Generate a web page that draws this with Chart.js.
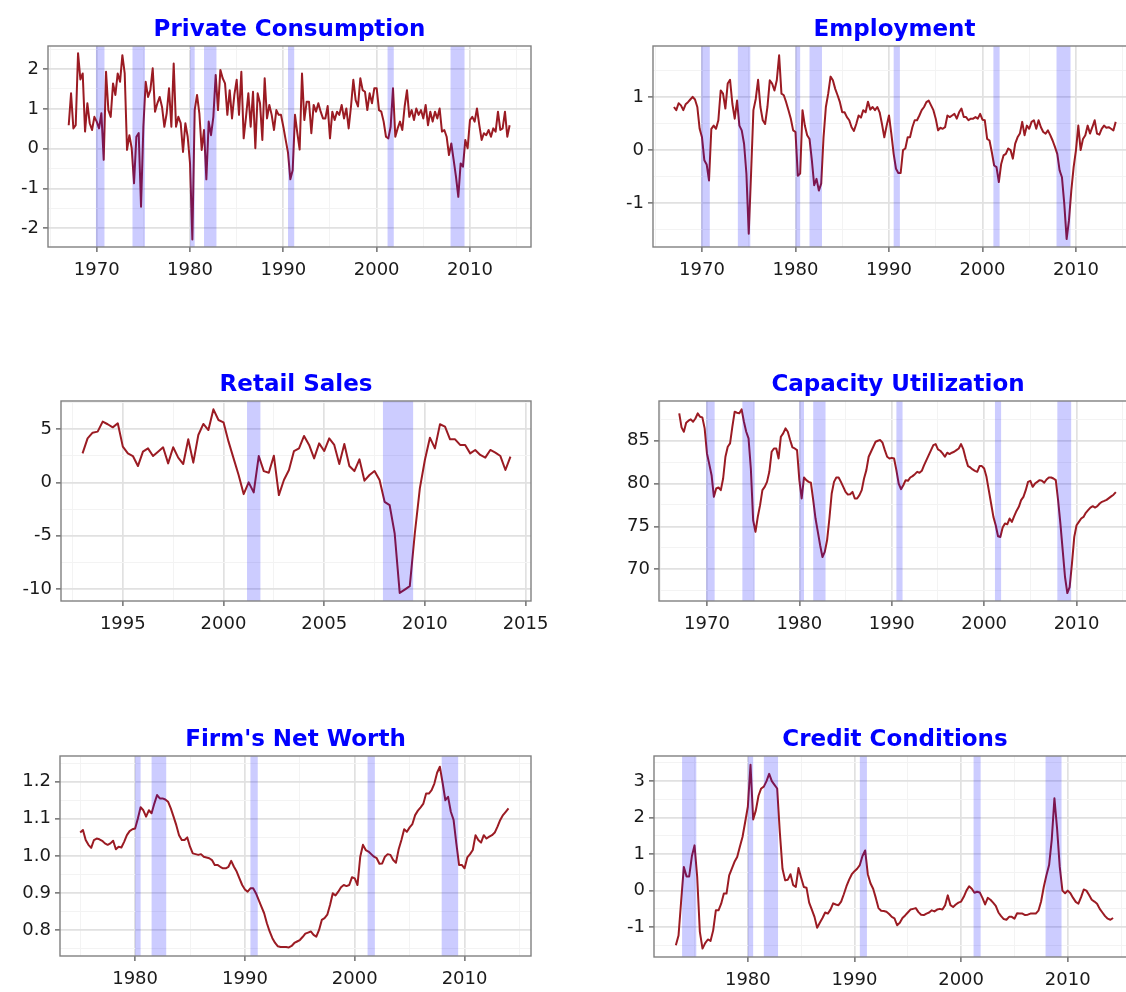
<!DOCTYPE html>
<html>
<head>
<meta charset="utf-8">
<script src="https://cdn.jsdelivr.net/npm/chart.js@4.4.0/dist/chart.umd.min.js"></script>
<style>
  html, body { margin: 0; padding: 0; background: #fff; overflow: hidden; }
  body { width: 1126px; height: 992px; position: relative; }
  canvas { position: absolute; }
</style>
</head>
<body>
<canvas id="c1"></canvas>
<canvas id="c2"></canvas>
<canvas id="c3"></canvas>
<canvas id="c4"></canvas>
<canvas id="c5"></canvas>
<canvas id="c6"></canvas>
<script>
// quarterly series, first value = first quarter of the start year
const consumptionStart = 1967;
const consumption = [
  0.59,1.39,0.51,0.59,2.4,1.74,1.89,0.43,1.14,0.64,
  0.47,0.8,0.68,0.51,0.89,-0.28,1.93,0.97,0.8,1.64,
  1.35,1.89,1.68,2.35,1.89,-0.03,0.34,0.01,-0.87,0.3,
  0.39,-1.46,0.55,1.68,1.3,1.47,2.02,0.93,1.14,1.3,
  1.05,0.55,0.89,1.52,0.55,2.14,0.55,0.8,0.64,-0.08,
  0.64,0.3,-0.37,-2.28,0.97,1.35,0.89,-0.03,0.47,-0.77,
  0.68,0.34,0.8,1.85,0.97,1.98,1.77,1.64,0.85,1.47,
  0.76,1.35,1.73,0.85,1.93,0.26,0.8,1.39,0.55,1.43,
  0.01,1.39,1.14,0.22,1.77,0.76,1.1,0.85,0.47,0.97,
  0.85,0.85,0.55,0.22,-0.1,-0.77,-0.54,0.85,0.39,-0.02,
  1.89,0.72,1.18,1.18,0.39,1.1,0.93,1.14,0.93,0.76,
  0.76,1.07,0.26,0.93,0.72,0.93,0.85,1.1,0.76,1.01,
  0.51,1.06,1.73,1.22,1.06,1.77,1.47,1.43,0.97,1.39,
  1.14,1.52,1.52,0.97,0.93,0.68,0.3,0.26,0.55,1.52,
  0.3,0.51,0.68,0.47,1.06,1.47,0.8,0.97,0.72,1.01,
  0.85,0.97,0.76,1.1,0.59,0.93,0.68,0.93,0.76,1.01,
  0.43,0.47,0.3,-0.16,0.13,-0.28,-0.7,-1.21,-0.37,-0.45,
  0.22,0.01,0.72,0.8,0.68,1.01,0.59,0.22,0.39,0.34,
  0.47,0.3,0.51,0.43,0.93,0.47,0.51,0.93,0.3,0.59
];

const employmentStart = 1967;
const employment = [
  0.81,0.75,0.88,0.84,0.75,0.86,0.9,0.95,1.0,0.95,
  0.81,0.4,0.24,-0.19,-0.27,-0.57,0.4,0.46,0.4,0.56,
  1.12,1.06,0.78,1.25,1.32,0.87,0.59,0.93,0.46,0.37,
  0.12,-0.44,-1.57,-0.44,0.75,0.96,1.32,0.81,0.56,0.49,
  0.81,1.31,1.25,1.12,1.31,1.78,1.06,1.03,0.9,0.75,
  0.59,0.37,0.34,-0.48,-0.44,0.75,0.46,0.28,0.21,-0.19,
  -0.66,-0.54,-0.76,-0.63,0.24,0.81,1.06,1.38,1.31,1.15,
  1.03,0.9,0.71,0.71,0.62,0.56,0.43,0.36,0.49,0.65,
  0.61,0.75,0.71,0.91,0.76,0.81,0.75,0.81,0.71,0.49,
  0.24,0.46,0.65,0.31,-0.07,-0.35,-0.43,-0.43,0.0,0.03,
  0.24,0.24,0.43,0.56,0.56,0.65,0.75,0.81,0.9,0.93,
  0.84,0.75,0.59,0.37,0.42,0.4,0.43,0.65,0.62,0.65,
  0.68,0.59,0.71,0.78,0.62,0.62,0.56,0.59,0.59,0.62,
  0.59,0.68,0.57,0.56,0.21,0.18,-0.04,-0.29,-0.32,-0.6,
  -0.26,-0.1,-0.07,0.03,0.0,-0.16,0.12,0.24,0.31,0.53,
  0.28,0.46,0.4,0.53,0.56,0.4,0.56,0.43,0.34,0.31,
  0.37,0.28,0.18,0.06,-0.07,-0.38,-0.51,-1.01,-1.67,-1.32,
  -0.76,-0.32,0.0,0.46,0.0,0.21,0.28,0.46,0.31,0.43,
  0.56,0.31,0.29,0.4,0.46,0.42,0.43,0.4,0.37,0.53
];

const retailStart = 1993;
const retailSales = [
  2.72,4.13,4.66,4.76,5.7,5.45,5.16,5.54,3.35,2.72,
  2.47,1.53,2.88,3.19,2.47,2.88,3.29,1.78,3.29,2.32,
  1.72,4.04,1.85,4.44,5.48,4.91,6.85,5.85,5.63,3.82,
  2.25,0.69,-1.1,0.0,-0.94,2.47,1.06,0.91,2.5,-1.19,
  0.22,1.16,2.94,3.19,4.35,3.51,2.25,3.66,2.94,4.13,
  3.51,1.72,3.6,1.53,1.06,2.16,0.16,0.69,1.06,0.22,
  -1.82,-2.13,-4.79,-10.36,-10.05,-9.73,-4.79,-0.56,2.1,4.19,
  3.19,5.45,5.23,4.04,4.04,3.51,3.51,2.72,3.04,2.57,
  2.32,3.04,2.79,2.47,1.16,2.41
];

const capacityStart = 1967;
const capacityUtil = [
  88.2,86.56,86.05,87.1,87.34,87.5,87.22,87.6,88.2,87.8,
  87.73,86.44,83.52,82.27,80.98,78.45,79.42,79.54,79.23,80.59,
  83.13,84.3,84.69,86.64,88.39,88.27,88.2,88.66,87.22,86.05,
  85.27,81.76,75.72,74.36,76.11,77.48,79.23,79.62,80.2,81.37,
  83.71,84.1,84.1,82.93,85.47,85.86,86.44,86.05,85.08,84.22,
  84.1,83.91,80.4,78.26,80.71,80.4,80.2,80.09,78.06,75.92,
  74.36,72.8,71.43,72.02,73.38,75.92,78.84,80.2,80.71,80.71,
  80.2,79.62,79.03,78.72,78.76,79.03,78.26,78.26,78.65,79.23,
  80.59,81.57,83.13,83.71,84.3,84.88,85.0,85.08,84.77,83.9,
  83.13,82.93,83.0,82.93,81.57,80.0,79.35,79.8,80.4,80.32,
  80.71,80.87,81.1,81.37,81.26,81.49,82.15,82.74,83.32,83.9,
  84.49,84.61,83.99,83.83,83.52,83.13,83.6,83.44,83.6,83.71,
  83.91,84.1,84.61,83.99,82.93,82.04,81.88,81.65,81.49,81.37,
  82.04,82.04,81.76,80.79,79.23,77.67,76.11,75.14,73.85,73.77,
  74.86,75.33,75.25,75.92,75.53,76.19,76.81,77.28,78.06,78.45,
  79.23,80.2,80.32,79.62,80.0,80.2,80.4,80.32,80.09,80.48,
  80.71,80.71,80.59,80.4,78.06,75.33,72.21,69.09,67.22,67.92,
  70.65,73.77,75.14,75.53,75.92,76.11,76.58,76.89,77.2,77.36,
  77.2,77.36,77.67,77.87,77.98,78.1,78.3,78.5,78.7,79.0
];

const netWorthStart = 1975;
const netWorth = [
  1.063,1.07,1.043,1.03,1.022,1.043,1.047,1.045,1.041,1.034,
  1.03,1.034,1.041,1.018,1.025,1.023,1.038,1.056,1.067,1.072,
  1.074,1.101,1.131,1.123,1.106,1.123,1.115,1.141,1.164,1.155,
  1.155,1.152,1.146,1.128,1.106,1.083,1.056,1.043,1.043,1.05,
  1.025,1.007,1.005,1.003,1.005,0.998,0.996,0.994,0.989,0.976,
  0.976,0.971,0.967,0.967,0.971,0.987,0.971,0.958,0.94,0.922,
  0.91,0.904,0.913,0.913,0.9,0.882,0.864,0.846,0.819,0.797,
  0.779,0.766,0.757,0.755,0.755,0.755,0.754,0.758,0.766,0.77,
  0.774,0.782,0.791,0.794,0.797,0.788,0.783,0.801,0.828,0.833,
  0.842,0.868,0.9,0.894,0.904,0.916,0.922,0.919,0.922,0.943,
  0.94,0.922,0.998,1.03,1.016,1.012,1.005,0.998,0.994,0.979,
  0.98,0.998,1.005,1.003,0.989,0.982,1.018,1.043,1.072,1.065,
  1.077,1.086,1.11,1.122,1.131,1.141,1.168,1.168,1.177,1.195,
  1.224,1.24,1.197,1.15,1.159,1.119,1.097,1.034,0.976,0.976,
  0.967,0.996,1.005,1.016,1.056,1.043,1.036,1.056,1.047,1.052,
  1.056,1.063,1.079,1.097,1.11,1.119,1.128
];

const creditStart = 1973.25;
const creditCond = [
  -1.5,-1.23,-0.27,0.65,0.39,0.39,0.94,1.24,0.38,-1.13,
  -1.59,-1.44,-1.34,-1.38,-1.09,-0.54,-0.54,-0.36,-0.08,-0.08,
  0.42,0.6,0.79,0.92,1.2,1.47,1.88,2.3,3.45,1.95,
  2.2,2.6,2.8,2.85,3.0,3.2,3.0,2.9,2.8,1.6,
  0.6,0.28,0.3,0.45,0.15,0.1,0.62,0.35,0.1,0.08,
  -0.33,-0.52,-0.72,-1.02,-0.88,-0.75,-0.6,-0.63,-0.52,-0.35,
  -0.38,-0.4,-0.3,-0.1,0.12,0.3,0.45,0.53,0.6,0.7,
  0.95,1.1,0.45,0.2,0.05,-0.2,-0.48,-0.55,-0.56,-0.58,
  -0.64,-0.72,-0.76,-0.95,-0.88,-0.75,-0.68,-0.6,-0.52,-0.5,
  -0.48,-0.59,-0.66,-0.67,-0.63,-0.6,-0.54,-0.57,-0.52,-0.5,
  -0.52,-0.4,-0.13,-0.4,-0.45,-0.38,-0.33,-0.3,-0.17,0.0,
  0.12,0.05,-0.06,-0.03,-0.05,-0.2,-0.38,-0.2,-0.25,-0.33,
  -0.42,-0.6,-0.7,-0.78,-0.8,-0.72,-0.72,-0.77,-0.62,-0.63,
  -0.63,-0.67,-0.66,-0.63,-0.63,-0.63,-0.55,-0.3,0.1,0.42,
  0.7,1.4,2.53,1.7,0.65,0.0,-0.07,0.0,-0.07,-0.2,
  -0.31,-0.36,-0.18,0.03,0.0,-0.12,-0.25,-0.3,-0.36,-0.5,
  -0.6,-0.7,-0.77,-0.8,-0.75
];

// NBER recessions as decimal years
const recessions = [
  [1969.917, 1970.833], [1973.833, 1975.167], [1980.0, 1980.5],
  [1981.5, 1982.833], [1990.5, 1991.167], [2001.167, 2001.833],
  [2007.917, 2009.417]
];

// tick labels
const decadeTicks = [1970, 1980, 1990, 2000, 2010];
const decadeMinor = [1965, 1975, 1985, 1995, 2005, 2015];
const retailXTicks = [1995, 2000, 2005, 2010, 2015];
const retailXMinor = [1992.5, 1997.5, 2002.5, 2007.5, 2012.5];
const lateXTicks = [1980, 1990, 2000, 2010];
const lateXMinor = [1975, 1985, 1995, 2005, 2015];

const consumptionY = [-2, -1, 0, 1, 2];
const consumptionYMinor = [-1.5, -0.5, 0.5, 1.5, 2.5];
const employmentY = [-1, 0, 1];
const employmentYMinor = [-1.5, -0.5, 0.5, 1.5];
const retailY = [-10, -5, 0, 5];
const retailYMinor = [-7.5, -2.5, 2.5, 7.5];
const capacityY = [70, 75, 80, 85];
const capacityYMinor = [67.5, 72.5, 77.5, 82.5, 87.5];
const netWorthY = [0.8, 0.9, 1.0, 1.1, 1.2];
const netWorthYMinor = [0.75, 0.85, 0.95, 1.05, 1.15, 1.25];
const creditY = [-1, 0, 1, 2, 3];
const creditYMinor = [-1.5, -0.5, 0.5, 1.5, 2.5, 3.5];

const TOP_H = 46, BOTTOM_H = 40, RIGHT_PAD = 30;
const LINE = 'rgb(155,27,35)';
const TICK_FONT = { family: 'DejaVu Sans', size: 18 };

function quarters(start, n) {
  const out = [];
  for (let i = 0; i < n; i++) out.push(start + i / 4);
  return out;
}

function has(list, v) {
  return list.some(t => Math.abs(t - v) < 1e-6);
}

const frame = {
  id: 'frame',
  afterDatasetsDraw(chart) {
    const { ctx, chartArea: a } = chart;
    const x = chart.scales.x;
    const first = chart.data.datasets[0].data[0].x;
    ctx.save();
    ctx.beginPath();
    ctx.rect(a.left, a.top, a.width, a.height);
    ctx.clip();
    ctx.fillStyle = 'rgba(0,0,255,0.2)';
    recessions.forEach(r => {
      if (r[0] < first) return;
      const x0 = x.getPixelForValue(r[0]);
      const x1 = x.getPixelForValue(r[1]);
      ctx.fillRect(x0, a.top, x1 - x0, a.height);
    });
    ctx.restore();
    ctx.save();
    ctx.strokeStyle = '#808080';
    ctx.lineWidth = 1.4;
    ctx.strokeRect(a.left, a.top, a.width, a.height);
    ctx.restore();
  }
};

function axis(min, max, majors, minors, fmt, fit, pad) {
  return {
    type: 'linear', min: min, max: max,
    afterBuildTicks: s => { s.ticks = majors.concat(minors).sort((a, b) => a - b).map(v => ({ value: v })); },
    afterFit: fit,
    ticks: {
      autoSkip: false, maxRotation: 0, padding: pad,
      font: TICK_FONT, color: '#1a1a1a',
      callback: v => has(majors, v) ? fmt(v) : ''
    },
    grid: {
      color: c => (c.tick && has(majors, c.tick.value)) ? '#e1e1e1' : '#f3f3f3',
      lineWidth: c => (c.tick && has(majors, c.tick.value)) ? 1.7 : 1,
      tickColor: c => (c.tick && has(majors, c.tick.value)) ? '#808080' : 'rgba(0,0,0,0)',
      tickLength: 5
    },
    border: { display: false }
  };
}

function panel(p) {
  const canvas = document.getElementById(p.id);
  const yw = p.plot[0] - p.canvasLeft;
  canvas.width = yw + (p.plot[2] - p.plot[0]) + RIGHT_PAD;
  canvas.height = TOP_H + (p.plot[3] - p.plot[1]) + BOTTOM_H;
  canvas.style.left = p.canvasLeft + 'px';
  canvas.style.top = (p.plot[1] - TOP_H) + 'px';

  const xs = quarters(p.start, p.values.length);
  const points = p.values.map((v, i) => ({ x: xs[i], y: v }));

  new Chart(canvas.getContext('2d'), {
    type: 'line',
    data: {
      datasets: [{
        data: points,
        borderColor: LINE,
        borderWidth: 2,
        pointRadius: 0,
        tension: 0,
        borderJoinStyle: 'round'
      }]
    },
    options: {
      responsive: false,
      animation: false,
      events: [],
      layout: { padding: { left: 0, right: RIGHT_PAD, top: 0, bottom: 0 } },
      plugins: {
        legend: { display: false },
        tooltip: { enabled: false },
        title: {
          display: true, text: p.title, color: '#0000ff', fullSize: false,
          font: { family: 'DejaVu Sans', size: 23, weight: 'bold', lineHeight: 1.2 },
          padding: { top: 16, bottom: 2.4 }
        }
      },
      scales: {
        x: axis(p.x[0], p.x[1], p.xMajor, p.xMinor, v => String(v), s => { s.height = BOTTOM_H; }, 8),
        y: axis(p.y[0], p.y[1], p.yMajor, p.yMinor, v => v.toFixed(p.dec), s => { s.width = yw; }, 4)
      }
    },
    plugins: [frame]
  });
}

panel({ id: 'c1', title: 'Private Consumption', canvasLeft: 0, plot: [48, 46, 531, 247],
  start: consumptionStart, values: consumption, x: [1964.78, 2016.54], xMajor: decadeTicks, xMinor: decadeMinor,
  y: [-2.47, 2.58], yMajor: consumptionY, yMinor: consumptionYMinor, dec: 0 });
panel({ id: 'c2', title: 'Employment', canvasLeft: 590, plot: [653, 46, 1136, 247],
  start: employmentStart, values: employment, x: [1964.76, 2016.42], xMajor: decadeTicks, xMinor: decadeMinor,
  y: [-1.82, 1.955], yMajor: employmentY, yMinor: employmentYMinor, dec: 0 });
panel({ id: 'c3', title: 'Retail Sales', canvasLeft: 0, plot: [61, 401, 531, 601],
  start: retailStart, values: retailSales, x: [1991.93, 2015.27], xMajor: retailXTicks, xMinor: retailXMinor,
  y: [-11.12, 7.63], yMajor: retailY, yMinor: retailYMinor, dec: 0 });
panel({ id: 'c4', title: 'Capacity Utilization', canvasLeft: 590, plot: [659, 401, 1137, 601],
  start: capacityStart, values: capacityUtil, x: [1964.81, 2016.54], xMajor: decadeTicks, xMinor: decadeMinor,
  y: [66.29, 89.64], yMajor: capacityY, yMinor: capacityYMinor, dec: 0 });
panel({ id: 'c5', title: "Firm's Net Worth", canvasLeft: 0, plot: [60, 756, 531, 956],
  start: netWorthStart, values: netWorth, x: [1973.16, 2016.05], xMajor: lateXTicks, xMinor: lateXMinor,
  y: [0.731, 1.269], yMajor: netWorthY, yMinor: netWorthYMinor, dec: 1 });
panel({ id: 'c6', title: 'Credit Conditions', canvasLeft: 590, plot: [654, 756, 1136, 957],
  start: creditStart, values: creditCond, x: [1971.2, 2016.4], xMajor: lateXTicks, xMinor: lateXMinor,
  y: [-1.82, 3.69], yMajor: creditY, yMinor: creditYMinor, dec: 0 });
</script>
</body>
</html>
